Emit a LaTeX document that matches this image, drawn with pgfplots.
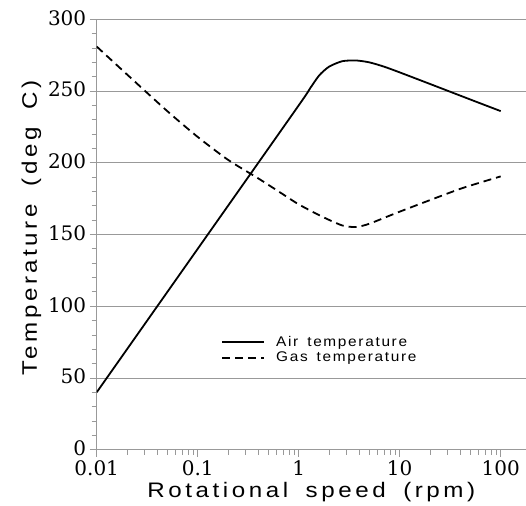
\documentclass[border=0pt]{standalone}
\usepackage{pgfplots}
\pgfplotsset{compat=1.18}
\usepackage{fontspec}
\setmainfont{Liberation Sans}
\newfontfamily\tickfont{DejaVu Serif}
\newfontfamily\labfont[FakeStretch=1.15,LetterSpace=17,WordSpace=1.7]{Liberation Sans}
\newfontfamily\legfont[FakeStretch=1.1,LetterSpace=12,WordSpace=1.5]{Liberation Sans}
\definecolor{gridgray}{gray}{0.6}

\begin{document}
\begin{tikzpicture}
\useasboundingbox (-96.7bp,-56.3bp) rectangle (429.3bp,449.7bp);
\begin{axis}[
  scale only axis, width=429.3bp, height=430.4bp,
  xmode=log, xmin=0.01, xmax=178, ymin=0, ymax=300,
  axis x line*=bottom, axis y line*=left,
  axis line style={gridgray, line width=0.8bp, -},
  xtick={0.01,0.1,1,10,100}, xticklabels={0.01,0.1,1,10,100},
  minor xtick={0.02,0.03,0.04,0.05,0.06,0.07,0.08,0.09,
               0.2,0.3,0.4,0.5,0.6,0.7,0.8,0.9,
               2,3,4,5,6,7,8,9,20,30,40,50,60,70,80,90},
  ytick={0,50,...,300}, minor y tick num=4,
  tick align=outside, major tick length=7bp, minor tick length=5bp,
  every tick/.style={gridgray, line width=0.8bp},
  ymajorgrids, major grid style={gridgray, line width=0.8bp},
  tick label style={font=\tickfont\fontsize{20bp}{22bp}\selectfont},
  xticklabel style={yshift=-3bp, inner ysep=1bp},
  yticklabel style={yshift=1.5bp, inner ysep=1bp},
  /pgf/number format/assume math mode=true,
  xlabel={Rotational speed (rpm)}, ylabel={Temperature (deg C)},
  label style={font=\labfont\fontsize{21bp}{24bp}\selectfont},
  xlabel style={yshift=-2bp},
  ylabel style={at={(ticklabel cs:0.515)}},
  legend style={draw=none, fill=none, inner sep=0pt,
    at={(rel axis cs:0.29,0.268)}, anchor=north west,
    font=\legfont\fontsize{14bp}{16bp}\selectfont,
    /tikz/every odd column/.append style={column sep=9bp}},
  legend cell align=left,
  legend image code/.code={\draw[#1] (0bp,0bp) -- (42bp,0bp);},
]
\addplot[black, line width=1.8bp, smooth, tension=0.4] coordinates {
  (0.01,40) (0.1,140) (1,240) (1.3,252) (1.6,261) (2,267) (2.7,270.8)
  (3.7,271.3) (5,270) (7,267) (10,263) (20,254.9) (50,244.1) (100,236)};
\addlegendentry{Air temperature}
\addplot[black, line width=1.8bp, dash pattern=on 8bp off 5bp, smooth, tension=0.4] coordinates {
  (0.01,281) (0.02,261.5) (0.05,236) (0.1,218) (0.2,202) (0.4,189)
  (0.7,178) (1,171) (1.7,162.5) (2.7,156.3) (3.7,155.2) (5,157.5)
  (9.25,165) (20,174) (42,182.4) (100,190.5)};
\addlegendentry{Gas temperature}
\end{axis}
\end{tikzpicture}
\end{document}
